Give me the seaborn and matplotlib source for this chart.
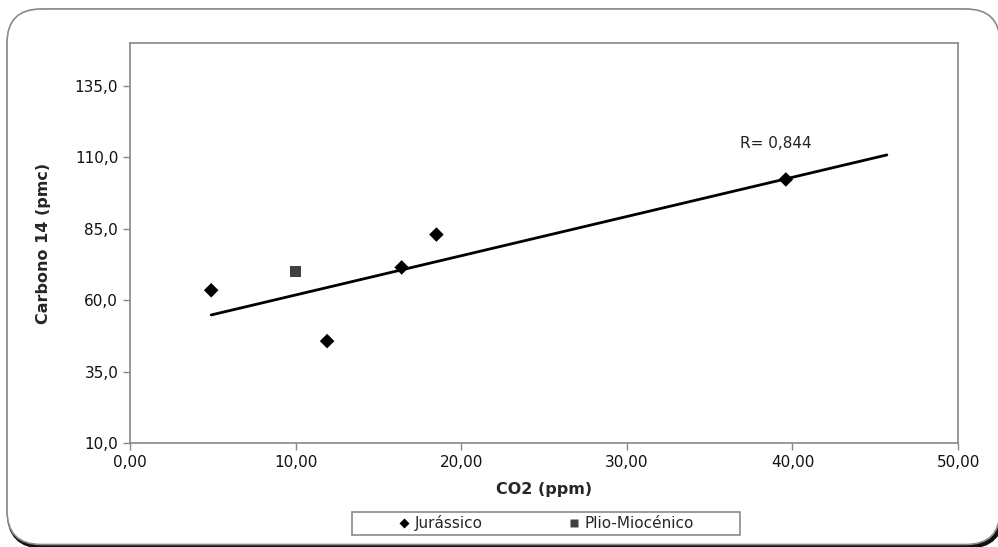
import numpy as np
import pandas as pd
import matplotlib
matplotlib.use("Agg")
import matplotlib.pyplot as plt
import seaborn as sns
from matplotlib.patches import FancyBboxPatch, Rectangle
from matplotlib.ticker import FuncFormatter, MultipleLocator

# values
jur_co2 = [4.9, 11.9, 16.4, 18.5, 39.6]
jur_c14 = [63.5, 45.7, 71.5, 83.0, 102.3]
plio_co2 = [10.0]
plio_c14 = [70.1]
forecast_forward = 6.1  # trendline extended past last point

df = pd.DataFrame({
    "co2": jur_co2 + plio_co2,
    "c14": jur_c14 + plio_c14,
    "grupo": ["Jurássico"] * len(jur_co2) + ["Plio-Miocénico"] * len(plio_co2),
})

sns.set_style("white")
plt.rcParams['font.family'] = ['DejaVu Sans']

fig = plt.figure(figsize=(9.98, 5.47), dpi=100)
ax = fig.add_axes([0.1303, 0.19, 0.8297, 0.731])

# outer rounded frame (inches), dark shadow on bottom/right
inch = fig.dpi_scale_trans
shadow = FancyBboxPatch((0.09, 0.005), 9.93, 5.355, boxstyle="round,pad=0,rounding_size=0.34",
                        transform=inch, facecolor="none", edgecolor="#111111",
                        linewidth=3.2, zorder=-3)
frame = FancyBboxPatch((0.07, 0.025), 9.93, 5.355, boxstyle="round,pad=0,rounding_size=0.34",
                       transform=inch, facecolor="white", edgecolor="#8a8a8a",
                       linewidth=1.2, zorder=-2)
legbox = Rectangle((3.52, 0.12), 3.88, 0.23, transform=inch, facecolor="white",
                   edgecolor="#8a8a8a", linewidth=1.2, zorder=-1)
fig.patches.extend([shadow, frame, legbox])

sns.scatterplot(data=df, x="co2", y="c14", hue="grupo", style="grupo",
                markers={"Jurássico": "D", "Plio-Miocénico": "s"},
                palette={"Jurássico": "black", "Plio-Miocénico": "#404040"},
                s=55, edgecolor="none", ax=ax, zorder=3)

# linear trendline on the Jurassic points
slope, intercept = np.polyfit(jur_co2, jur_c14, 1)
r = np.corrcoef(jur_co2, jur_c14)[0, 1]
xs = np.array([min(jur_co2), max(jur_co2) + forecast_forward])
sns.lineplot(x=xs, y=slope * xs + intercept, color="black", linewidth=2, ax=ax, zorder=2)
ax.text(39.0, 113.4, f"R= {r:.3f}".replace(".", ","), ha="center", va="baseline",
        fontsize=11, color="#222222")

ax.set_xlim(0, 50)
ax.set_ylim(10, 150)
ax.xaxis.set_major_locator(MultipleLocator(10))
ax.set_yticks([10, 35, 60, 85, 110, 135])
ax.xaxis.set_major_formatter(FuncFormatter(lambda v, p: f"{v:.2f}".replace(".", ",")))
ax.yaxis.set_major_formatter(FuncFormatter(lambda v, p: f"{v:.1f}".replace(".", ",")))
ax.tick_params(axis="both", direction="out", length=5, width=1, color="#888888",
               labelsize=11, labelcolor="#111111", bottom=True, left=True)
for sp in ax.spines.values():
    sp.set_color("#888888")
    sp.set_linewidth(1.2)

ax.set_xlabel("CO2 (ppm)", fontsize=11.5, fontweight="bold", labelpad=9)
ax.set_ylabel("Carbono 14 (pmc)", fontsize=11.5, fontweight="bold", labelpad=17)

leg = ax.legend(loc="center", bbox_to_anchor=(0.5024, -0.201), ncol=2, frameon=False,
                fontsize=11, handlelength=0.8, handletextpad=0.3, columnspacing=5.6,
                markerscale=0.75)

fig.savefig("out.png", dpi=100)
